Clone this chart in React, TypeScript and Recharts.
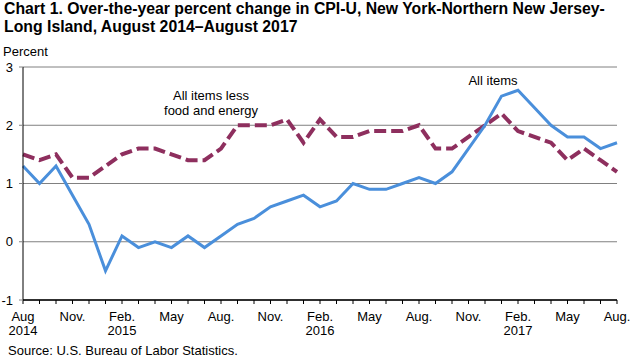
import React from 'react';
import { LineChart, Line, XAxis, YAxis, CartesianGrid, ReferenceLine } from 'recharts';

// months Aug 2014 .. Aug 2017
const months = [
  'Aug 2014', 'Sep 2014', 'Oct 2014', 'Nov 2014', 'Dec 2014',
  'Jan 2015', 'Feb 2015', 'Mar 2015', 'Apr 2015', 'May 2015', 'Jun 2015', 'Jul 2015',
  'Aug 2015', 'Sep 2015', 'Oct 2015', 'Nov 2015', 'Dec 2015',
  'Jan 2016', 'Feb 2016', 'Mar 2016', 'Apr 2016', 'May 2016', 'Jun 2016', 'Jul 2016',
  'Aug 2016', 'Sep 2016', 'Oct 2016', 'Nov 2016', 'Dec 2016',
  'Jan 2017', 'Feb 2017', 'Mar 2017', 'Apr 2017', 'May 2017', 'Jun 2017', 'Jul 2017',
  'Aug 2017',
];

const allItems = [
  1.3, 1.0, 1.3, 0.8, 0.3,
  -0.5, 0.1, -0.1, 0.0, -0.1, 0.1, -0.1,
  0.1, 0.3, 0.4, 0.6, 0.7,
  0.8, 0.6, 0.7, 1.0, 0.9, 0.9, 1.0,
  1.1, 1.0, 1.2, 1.6, 2.0,
  2.5, 2.6, 2.3, 2.0, 1.8, 1.8, 1.6,
  1.7,
];

const coreItems = [
  1.5, 1.4, 1.5, 1.1, 1.1,
  1.3, 1.5, 1.6, 1.6, 1.5, 1.4, 1.4,
  1.6, 2.0, 2.0, 2.0, 2.1,
  1.7, 2.1, 1.8, 1.8, 1.9, 1.9, 1.9,
  2.0, 1.6, 1.6, 1.8, 2.0,
  2.2, 1.9, 1.8, 1.7, 1.4, 1.6, 1.4,
  1.2,
];

// label shown under every third month (line 1 / line 2)
const tickLabels: Record<string, [string, string]> = {
  'Aug 2014': ['Aug', '2014'],
  'Nov 2014': ['Nov.', ''],
  'Feb 2015': ['Feb.', '2015'],
  'May 2015': ['May', ''],
  'Aug 2015': ['Aug.', ''],
  'Nov 2015': ['Nov.', ''],
  'Feb 2016': ['Feb.', '2016'],
  'May 2016': ['May', ''],
  'Aug 2016': ['Aug.', ''],
  'Nov 2016': ['Nov.', ''],
  'Feb 2017': ['Feb.', '2017'],
  'May 2017': ['May', ''],
  'Aug 2017': ['Aug.', ''],
};

const yTicks = [-1, 0, 1, 2, 3];

const chartData = months.map((m, i) => ({ month: m, all: allItems[i], core: coreItems[i] }));

const FONT = '"Liberation Sans", Arial, sans-serif';

const MonthTick = (props: any) => {
  const { x, y, payload } = props;
  const lbl = tickLabels[payload.value];
  if (!lbl) return null;
  return (
    <g>
      <text x={x} y={y + 15} textAnchor="middle" fontSize={13} fill="#000" fontFamily={FONT}>{lbl[0]}</text>
      {lbl[1] && (
        <text x={x} y={y + 29} textAnchor="middle" fontSize={13} fill="#000" fontFamily={FONT}>{lbl[1]}</text>
      )}
    </g>
  );
};

export default function App() {
  return (
    <div style={{ position: 'absolute', left: 0, top: 0, width: 632, height: 357, background: '#fff', fontFamily: FONT }}>
      <div style={{ position: 'absolute', left: 4, top: 0, fontSize: 15.8, fontWeight: 'bold', lineHeight: '18px', color: '#000', whiteSpace: 'nowrap' }}>
        Chart 1. Over-the-year percent change in CPI-U, New York-Northern New Jersey-<br />
        Long Island, August 2014–August 2017
      </div>
      <div style={{ position: 'absolute', left: 3, top: 44, fontSize: 13, color: '#000' }}>Percent</div>
      <div style={{ position: 'absolute', left: 8, top: 343, fontSize: 13, color: '#000' }}>Source: U.S. Bureau of Labor Statistics.</div>
      <div style={{ position: 'absolute', left: 0, top: 0 }}>
        <LineChart width={632} height={357} data={chartData} margin={{ top: 67, right: 15, bottom: 17, left: 0 }}>
          <CartesianGrid vertical={false} stroke="#808080" strokeWidth={1} />
          <XAxis
            dataKey="month"
            interval={0}
            tick={<MonthTick />}
            tickSize={4}
            tickLine={{ stroke: '#000' }}
            axisLine={{ stroke: '#000' }}
            height={40}
            padding={{ left: 0, right: 0 }}
          />
          <YAxis
            domain={[-1, 3]}
            ticks={yTicks}
            width={23}
            tickSize={4}
            tickMargin={6}
            tickLine={{ stroke: '#808080' }}
            axisLine={{ stroke: '#000' }}
            tick={{ fontSize: 13, fill: '#000', fontFamily: FONT }}
          />
          <ReferenceLine y={-1} stroke="#000" />
          <Line
            type="linear"
            dataKey="core"
            stroke="#8e2f5e"
            strokeWidth={4}
            strokeDasharray="12 5"
            dot={false}
            isAnimationActive={false}
          />
          <Line
            type="linear"
            dataKey="all"
            stroke="#4a8fdb"
            strokeWidth={3}
            dot={false}
            isAnimationActive={false}
          />
          <text x={211} y={100} textAnchor="middle" fontSize={13} fill="#000" fontFamily={FONT}>All items less</text>
          <text x={211} y={115} textAnchor="middle" fontSize={13} fill="#000" fontFamily={FONT}>food and energy</text>
          <text x={493} y={85} textAnchor="middle" fontSize={13} fill="#000" fontFamily={FONT}>All items</text>
        </LineChart>
      </div>
    </div>
  );
}
